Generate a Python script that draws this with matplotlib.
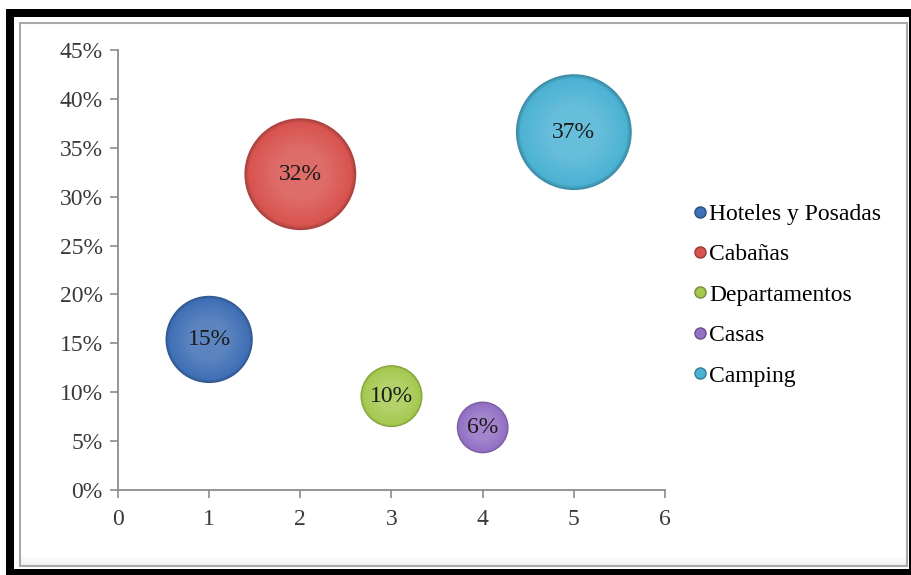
import numpy as np
import matplotlib
matplotlib.use("Agg")
import matplotlib.pyplot as plt
from matplotlib.patches import Rectangle
from matplotlib.ticker import FuncFormatter
from matplotlib.colors import to_rgb

plt.rcParams['font.family'] = ['Liberation Serif', 'DejaVu Serif']

# data
categories = ["Hoteles y Posadas", "Cabañas", "Departamentos", "Casas", "Camping"]
x_vals = [1, 2, 3, 4, 5]
y_vals = [15.4, 32.3, 9.6, 6.4, 36.6]
bubble_size = [21.0, 34.5, 10.6, 7.4, 37.0]
labels = ["15%", "32%", "10%", "6%", "37%"]
colors = ["#3f6fb5", "#d8534f", "#a5c94f", "#9470c4", "#4cb2d3"]

W, H = 912, 575
fig = plt.figure(figsize=(W / 100, H / 100), dpi=100)
fig.patch.set_facecolor("white")


def px(x, y):
    return x / W, 1 - y / H


# black frame and inner panel
fig.patches.append(Rectangle(px(6, 575), 1, (575 - 9) / H, transform=fig.transFigure,
                             facecolor="black", edgecolor="none", zorder=0))
fig.patches.append(Rectangle(px(14, 569), (909 - 14) / W, (569 - 17) / H, transform=fig.transFigure,
                             facecolor="white", edgecolor="none", zorder=0))
# soft shadow along the bottom of the panel
for i in range(10):
    g = 1.0 - 0.006 * (10 - i)
    fig.patches.append(Rectangle(px(21, 566 - i), (906 - 21) / W, 1 / H, transform=fig.transFigure,
                                 facecolor=(g, g, g), edgecolor="none", zorder=0))
fig.patches.append(Rectangle(px(20, 566), (907 - 20) / W, (566 - 23) / H, transform=fig.transFigure,
                             facecolor="none", edgecolor="#a8a8a8", lw=1.5, zorder=0))

x0, y0 = px(118, 490)
x1, y1 = px(665, 50)
ax = fig.add_axes([x0, y0, x1 - x0, y1 - y0], zorder=2)
ax.set_facecolor("none")

ax.set_xlim(0, 6)
ax.set_ylim(0, 45)
ax.set_xticks(range(0, 7))
ax.set_yticks(range(0, 46, 5))
ax.yaxis.set_major_formatter(FuncFormatter(lambda v, p: f"{v:.0f}%"))

for s in ["top", "right"]:
    ax.spines[s].set_visible(False)
for s in ["left", "bottom"]:
    ax.spines[s].set_color("#8c8c8c")
    ax.spines[s].set_linewidth(1.3)
ax.tick_params(colors="#8c8c8c", labelcolor="#3a3a3a", labelsize=17, length=6, width=1.2,
               direction="out")
ax.tick_params(axis="y", pad=5)
ax.tick_params(axis="x", pad=8)

# bubbles drawn as layered scatters for a shaded look
n_layers = 18
for xv, yv, sz, c, lab, txt in zip(x_vals, y_vals, bubble_size, colors, categories, labels):
    base = np.array(to_rgb(c))
    dark = base * 0.8
    light = base + (1 - base) * 0.15
    for k in range(n_layers):
        t = k / (n_layers - 1)
        f = 1.0 - 0.55 * t
        if t < 0.12:
            col = dark + (base - dark) * (t / 0.12)
        else:
            col = base + (light - base) * ((t - 0.12) / 0.88)
        ax.scatter([xv], [yv], s=sz * 188 * f ** 2, color=np.clip(col, 0, 1),
                   edgecolors="none", zorder=3 + k * 0.01, clip_on=False)
    ax.text(xv, yv, txt, ha="center", va="center", fontsize=17, color="#1a1a1a", zorder=5)

# legend
handles = [plt.Line2D([], [], ls="none", marker="o", markersize=8,
                      markerfacecolor=c, markeredgecolor=tuple(np.array(to_rgb(c)) * 0.7))
           for c in colors]
fig.legend(handles, categories, loc="center left", bbox_to_anchor=px(682, 295),
           frameon=False, fontsize=17, handlelength=0.5, handletextpad=0.15,
           labelspacing=0.8, borderpad=0)

fig.savefig("out.png", dpi=100)
